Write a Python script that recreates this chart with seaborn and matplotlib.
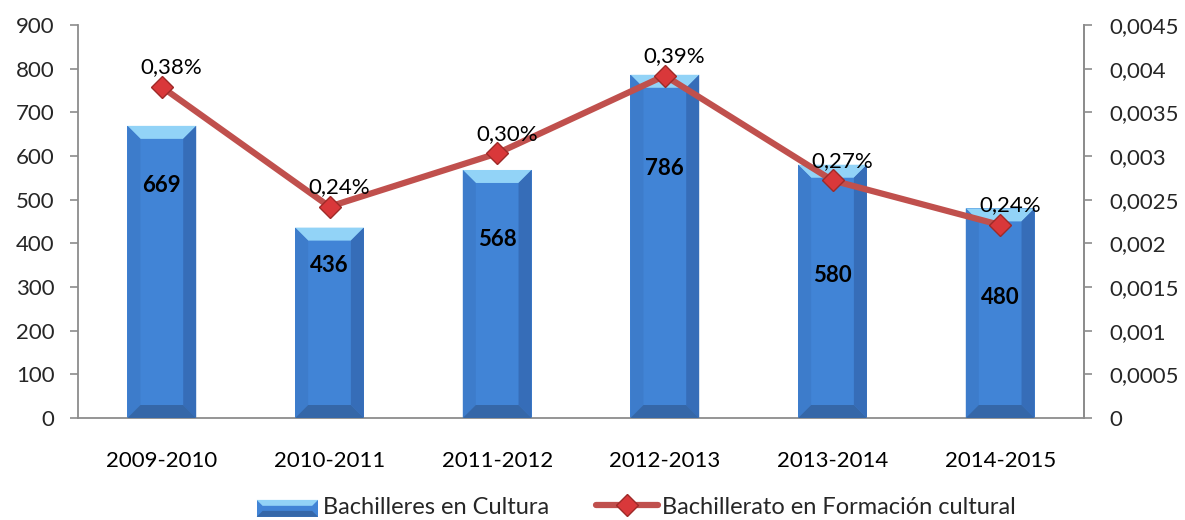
import matplotlib
matplotlib.use("Agg")
import matplotlib.pyplot as plt
import seaborn as sns
import pandas as pd
import numpy as np
from matplotlib.patches import Polygon, Rectangle
from matplotlib.lines import Line2D
from matplotlib.legend_handler import HandlerBase

# ---- data ----
years = ["2009-2010", "2010-2011", "2011-2012", "2012-2013", "2013-2014", "2014-2015"]
bachilleres = [669, 436, 568, 786, 580, 480]
formacion = [0.00379, 0.00242, 0.00303, 0.00392, 0.00272, 0.00221]
formacion_labels = ["0,38%", "0,24%", "0,30%", "0,39%", "0,27%", "0,24%"]
bar_series = "Bachilleres en Cultura"
line_series = "Bachillerato en Formación cultural"
left_ticks = [0, 100, 200, 300, 400, 500, 600, 700, 800, 900]
right_ticks = [0, 0.0005, 0.001, 0.0015, 0.002, 0.0025, 0.003, 0.0035, 0.004, 0.0045]
right_tick_labels = ["0", "0,0005", "0,001", "0,0015", "0,002", "0,0025", "0,003", "0,0035", "0,004", "0,0045"]
# layout: vertical position of bar value labels (data units)
bar_label_y = [533, 350, 408, 572, 327, 275]

sns.set_theme(style="white")
plt.rcParams['font.family'] = ['Lato', 'DejaVu Sans']

FACE = "#4184D6"
TOP = "#92D3F7"
LEFTS = "#3D7CCB"
RIGHTS = "#366DB8"
BOTTOM = "#3567A8"
LINE = "#C0504D"
SPINE = "#8C8C8C"

fig = plt.figure(figsize=(11.85, 5.2), dpi=100)
ax = fig.add_axes([78/1185, 1-418/520, (1084-78)/1185, (418-25)/520])

df = pd.DataFrame({"year": years, "value": bachilleres})
sns.barplot(data=df, x="year", y="value", ax=ax, color=FACE, width=0.41,
            saturation=1, edgecolor="none", zorder=2)
ax.set_xlim(-0.5, len(years) - 0.5)
ax.set_ylim(0, 900)

# bevel decoration derived from each bar patch
px_x = 1.0 / ((1084 - 78) / len(years))  # category units per pixel
px_y = 900.0 / (418 - 25)               # data units per pixel
bx = 13 * px_x
by = 13 * px_y
for p in ax.patches:
    x0 = p.get_x(); w = p.get_width(); h = p.get_height()
    x1 = x0 + w
    ax.add_patch(Polygon([(x0, h), (x1, h), (x1 - bx, h - by), (x0 + bx, h - by)],
                         closed=True, facecolor=TOP, edgecolor="none", zorder=3))
    ax.add_patch(Polygon([(x0, 0), (x0 + bx, by), (x0 + bx, h - by), (x0, h)],
                         closed=True, facecolor=LEFTS, edgecolor="none", zorder=3))
    ax.add_patch(Polygon([(x1, 0), (x1 - bx, by), (x1 - bx, h - by), (x1, h)],
                         closed=True, facecolor=RIGHTS, edgecolor="none", zorder=3))
    ax.add_patch(Polygon([(x0, 0), (x1, 0), (x1 - bx, by), (x0 + bx, by)],
                         closed=True, facecolor=BOTTOM, edgecolor="none", zorder=3))

for i, (v, ly) in enumerate(zip(bachilleres, bar_label_y)):
    ax.text(i, ly, str(v), ha="center", va="center", fontsize=16,
            fontweight="bold", color="black", zorder=5)

ax.set_xlabel("")
ax.set_ylabel("")
ax.set_yticks(left_ticks)
ax.set_yticklabels([str(t) for t in left_ticks])
ax.set_xticks(range(len(years)))
ax.set_xticklabels(years)
ax.set_xticks(np.arange(-0.5, len(years), 1.0), minor=True)
ax.tick_params(axis="x", which="major", length=0, pad=24, labelsize=16, colors="black")
ax.tick_params(axis="x", which="minor", length=7, width=1.2, color=SPINE, direction="out")
ax.tick_params(axis="y", length=6, width=1.2, color=SPINE, direction="out", labelsize=16, pad=11)
for s in ["top"]:
    ax.spines[s].set_visible(False)
for s in ["left", "bottom", "right"]:
    ax.spines[s].set_color(SPINE)
    ax.spines[s].set_linewidth(1.3)

ax2 = ax.twinx()
ax2.set_ylim(0, 0.0045)
ldf = pd.DataFrame({"x": np.arange(len(years)), "v": formacion})
sns.lineplot(data=ldf, x="x", y="v", ax=ax2, color=LINE, linewidth=4.5,
             marker="D", markersize=11, markerfacecolor="#D9383A",
             markeredgecolor="#9E2A28", markeredgewidth=1, zorder=4)
ax2.set_xlim(-0.5, len(years) - 0.5)
ax2.set_ylabel("")
ax2.set_xlabel("")
ax2.set_yticks(right_ticks)
ax2.set_yticklabels(right_tick_labels)
ax2.tick_params(axis="y", length=6, width=1.2, color=SPINE, direction="out", labelsize=16, pad=12)
for s in ["top", "left", "bottom"]:
    ax2.spines[s].set_visible(False)
ax2.spines["right"].set_color(SPINE)
ax2.spines["right"].set_linewidth(1.3)

for i, (v, lab) in enumerate(zip(formacion, formacion_labels)):
    ax2.annotate(lab, (i, v), xytext=(7, 7), textcoords="offset points",
                 ha="center", va="bottom", fontsize=16, color="black", zorder=6)


class BevelHandler(HandlerBase):
    def create_artists(self, legend, orig_handle, xdescent, ydescent, width, height, fontsize, trans):
        x0, y0 = -xdescent, -ydescent + height * 0.0
        w, h = width, height * 0.8
        b = h * 0.35
        arts = [
            Rectangle((x0, y0), w, h, facecolor=FACE, edgecolor="none"),
            Polygon([(x0, y0 + h), (x0 + w, y0 + h), (x0 + w - b, y0 + h - b), (x0 + b, y0 + h - b)],
                    closed=True, facecolor=TOP, edgecolor="none"),
            Polygon([(x0, y0), (x0 + w, y0), (x0 + w - b, y0 + b), (x0 + b, y0 + b)],
                    closed=True, facecolor=BOTTOM, edgecolor="none"),
        ]
        for a in arts:
            a.set_transform(trans)
        return arts


h_bar = Rectangle((0, 0), 1, 1, facecolor=FACE)
h_line = Line2D([], [], color=LINE, linewidth=4.5, marker="D", markersize=11,
                markerfacecolor="#D9383A", markeredgecolor="#9E2A28")
fig.legend([h_bar, h_line], [bar_series, line_series],
           handler_map={Rectangle: BevelHandler()},
           loc="center", bbox_to_anchor=(0.537, 0.025), ncol=2, frameon=False,
           fontsize=17, handlelength=2.6, handleheight=1.0, columnspacing=2.0,
           handletextpad=0.2)

fig.savefig("out.png", dpi=100)
